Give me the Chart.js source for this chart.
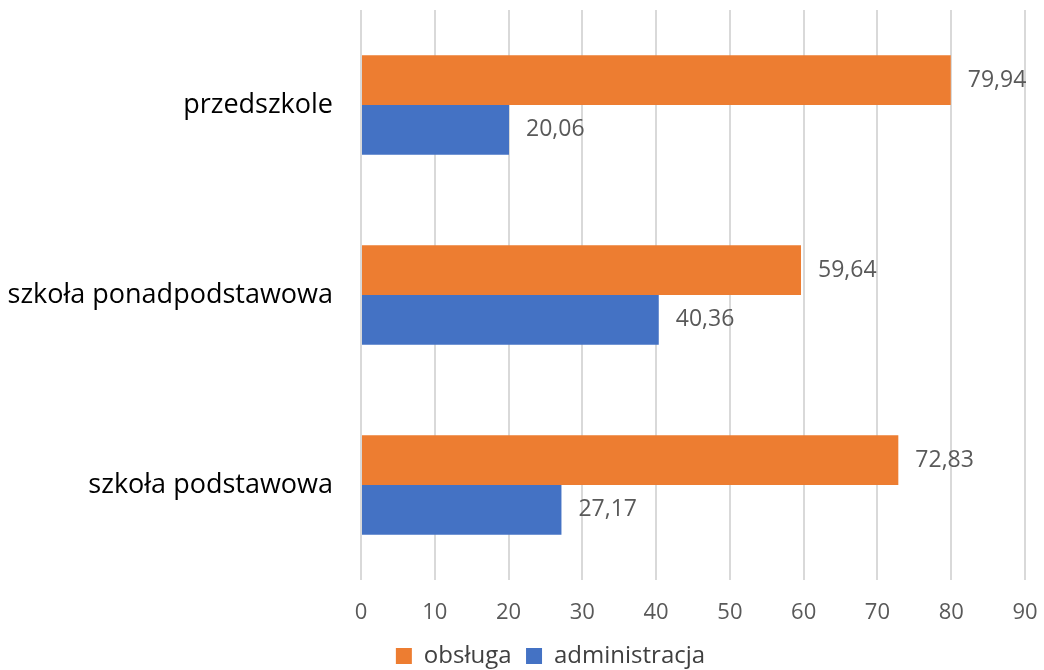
<!DOCTYPE html>
<html>
<head>
<meta charset="utf-8">
<script src="https://cdn.jsdelivr.net/npm/chart.js@4"></script>
<style>
html,body{margin:0;padding:0;background:#fff;}
#wrap{width:1044px;height:670px;}
</style>
</head>
<body>
<div id="wrap"><canvas id="c" width="1044" height="670"></canvas></div>
<script>
const categories = ["przedszkole", "szkoła ponadpodstawowa", "szkoła podstawowa"];
const obsluga = [79.94, 59.64, 72.83];
const administracja = [20.06, 40.36, 27.17];
const seriesNames = ["obsługa", "administracja"];
const xTicks = [0, 10, 20, 30, 40, 50, 60, 70, 80, 90];

const labelPlugin = {
  id: 'valueLabels',
  afterDatasetsDraw(chart) {
    const ctx = chart.ctx;
    ctx.save();
    ctx.font = '23px "Open Sans"';
    ctx.fillStyle = '#595959';
    ctx.textAlign = 'left';
    ctx.textBaseline = 'middle';
    chart.data.datasets.forEach((ds, di) => {
      const meta = chart.getDatasetMeta(di);
      meta.data.forEach((bar, i) => {
        const txt = ds.data[i].toFixed(2).replace('.', ',');
        ctx.fillText(txt, bar.x + 17, bar.y);
      });
    });
    ctx.restore();
  }
};

const legendShift = {
  id: 'legendShift',
  afterLayout(chart) {
    const lg = chart.legend;
    if (!lg) return;
    lg.left += 38; lg.right += 38;
    lg.top += 8; lg.bottom += 8;
  }
};

new Chart(document.getElementById('c'), {
  type: 'bar',
  data: {
    labels: categories,
    datasets: [
      { label: seriesNames[0], data: obsluga, backgroundColor: '#ED7D31', categoryPercentage: 0.523, barPercentage: 1.0 },
      { label: seriesNames[1], data: administracja, backgroundColor: '#4472C4', categoryPercentage: 0.523, barPercentage: 1.0 }
    ]
  },
  options: {
    indexAxis: 'y',
    responsive: false,
    animation: false,
    devicePixelRatio: 1,
    layout: { padding: { top: 10, right: 19, left: 0, bottom: 0 } },
    plugins: {
      legend: {
        position: 'bottom',
        labels: {
          font: { family: '"Open Sans"', size: 24 },
          color: '#404040',
          boxWidth: 16,
          boxHeight: 16,
          padding: 2,
          generateLabels(chart) {
            const items = Chart.defaults.plugins.legend.labels.generateLabels(chart);
            items.forEach((it, i) => { if (i < items.length - 1) it.text = it.text + '  '; });
            return items;
          }
        }
      },
      tooltip: { enabled: false }
    },
    scales: {
      x: {
        min: 0, max: 90,
        afterBuildTicks(axis) { axis.ticks = xTicks.map(v => ({ value: v })); },
        afterFit(axis) { axis.paddingLeft = 0; axis.paddingRight = 0; axis.height = 54; },
        grid: { color: '#d9d9d9', lineWidth: 2, drawTicks: false },
        border: { display: false },
        ticks: { font: { family: '"Open Sans"', size: 22 }, color: '#595959', padding: 20 }
      },
      y: {
        grid: { display: false },
        border: { display: false },
        afterFit(axis) { axis.width = 361; axis.paddingTop = 0; axis.paddingBottom = 0; },
        ticks: { font: { family: '"Open Sans"', size: 27 }, color: '#000000', padding: 20 }
      }
    }
  },
  plugins: [labelPlugin, legendShift]
});
</script>
</body>
</html>
